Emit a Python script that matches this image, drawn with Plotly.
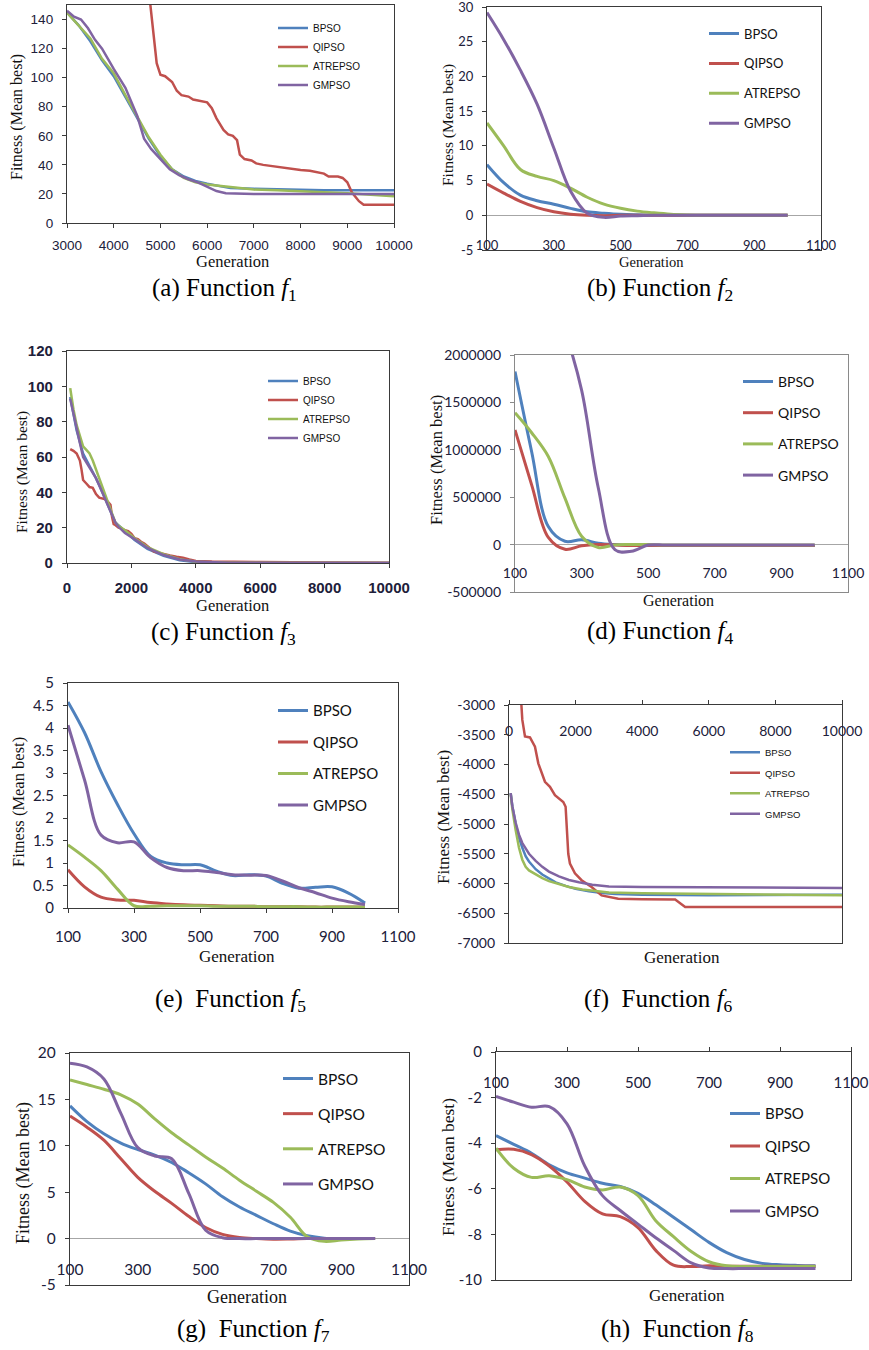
import plotly.graph_objects as go

W, H = 869, 1350

SERIES = ["BPSO", "QIPSO", "ATREPSO", "GMPSO"]
COLORS = ["#4F81BD", "#C0504D", "#9BBB59", "#8064A2"]

# ---------------- (a) Function f1 ----------------
A_BPSO_X = [3000, 3250, 3500, 3750, 4000, 4250, 4500, 4750, 5000, 5250, 5500, 5750, 6000, 6500, 7000, 7500, 8000, 8500, 9000, 9500, 10000]
A_BPSO_Y = [145, 136, 125, 112, 101, 87, 72, 58, 46, 37, 32, 29, 27, 24, 23.5, 23, 22.5, 22.5, 22.5, 22.5, 22.5]
A_QIPSO_X = [4700, 4781, 4850, 4920, 5000, 5100, 5250, 5350, 5450, 5600, 5700, 5900, 6000, 6100, 6200, 6350, 6450, 6550, 6640, 6700, 6800, 6950, 7050, 7200, 7400, 7600, 7800, 8000, 8200, 8400, 8500, 8600, 8800, 8900, 9000, 9100, 9250, 9350, 10000]
A_QIPSO_Y = [175, 150, 128, 110, 102, 101, 97, 91, 88, 87, 85, 84, 83, 79, 72, 64, 61, 60, 57, 47, 44, 43, 41, 40, 39, 38, 37, 36.5, 36, 35, 34, 32, 32, 31, 28, 21, 15, 12.5, 12.5]
A_ATREPSO_X = [3000, 3250, 3500, 3750, 4000, 4250, 4500, 4750, 5000, 5250, 5500, 5750, 6000, 6250, 6500, 6750, 7000, 7500, 8000, 8500, 9000, 9500, 10000]
A_ATREPSO_Y = [144.7, 136, 127, 113, 103, 88, 73, 59, 47, 37, 31, 28, 26.5, 25.5, 24.5, 23.5, 23, 22.5, 22, 21, 20.5, 19.5, 18.4]
A_GMPSO_X = [3000, 3150, 3300, 3450, 3600, 3750, 4000, 4250, 4500, 4650, 4800, 5000, 5200, 5400, 5600, 5800, 6000, 6200, 6400, 7000, 8000, 9000, 10000]
A_GMPSO_Y = [146, 142, 140, 134, 126, 120, 106, 93, 74, 58, 51, 44, 37, 33, 30, 28, 25, 22, 20.5, 20, 20, 20, 20]

# ---------------- shared generation grid (b, d, e, g, h) ----------------
GEN = [100, 150, 200, 250, 300, 350, 400, 450, 500, 550, 600, 650, 700, 750, 800, 850, 900, 950, 1000]

# (b) Function f2
B_BPSO = [7.3, 4.7, 2.9, 2.1, 1.6, 1.0, 0.5, 0.3, 0.15, 0.08, 0.04, 0.02, 0, 0, 0, 0, 0, 0, 0]
B_QIPSO = [4.5, 3.2, 2.0, 1.1, 0.5, 0.15, 0, -0.05, 0, 0, 0, 0, 0, 0, 0, 0, 0, 0, 0]
B_ATREPSO = [13.3, 10.0, 6.6, 5.6, 5.0, 3.9, 2.6, 1.6, 1.0, 0.6, 0.35, 0.15, 0.05, 0, 0, 0, 0, 0, 0]
B_GMPSO = [29.2, 25.3, 20.9, 16.0, 9.7, 3.5, 0.3, -0.3, -0.1, -0.05, 0, 0, 0, 0, 0, 0, 0, 0, 0]

# (c) Function f3
C_BPSO_X = [100, 200, 300, 500, 700, 900, 1100, 1300, 1500, 1800, 2100, 2500, 3000, 3500, 4000, 5000, 10000]
C_BPSO_Y = [94, 84, 75, 62, 55, 48, 40, 31, 23, 18, 13, 8, 4, 1.5, 0.5, 0.1, 0]
C_QIPSO_X = [100, 200, 300, 400, 450, 500, 600, 700, 800, 900, 1000, 1100, 1200, 1300, 1350, 1400, 1450, 1500, 1600, 1700, 1800, 1900, 2000, 2100, 2200, 2300, 2400, 2500, 2600, 2700, 2800, 3000, 3200, 3400, 3600, 3800, 4000, 4500, 5000, 6000, 8000, 10000]
C_QIPSO_Y = [64.5, 63.5, 62, 58, 53, 47, 45, 43, 42.5, 39, 37, 36.5, 36, 34, 33, 26, 22, 21.5, 20, 19.5, 18.5, 18, 16.5, 14, 13.5, 12, 11, 9.5, 8, 6.5, 6, 5, 4.2, 3.5, 3, 2, 1.2, 0.8, 0.6, 0.5, 0.3, 0.2]
C_ATREPSO_X = [100, 200, 300, 400, 500, 600, 700, 800, 900, 1000, 1100, 1200, 1300, 1400, 1500, 1600, 1800, 2100, 2500, 3000, 3500, 4000, 5000, 10000]
C_ATREPSO_Y = [99, 87, 78, 72, 66, 64, 62, 58, 53, 48, 43, 38, 33, 28, 23, 21, 18.5, 14, 9, 5, 2.2, 0.7, 0.1, 0]
C_GMPSO_X = [100, 200, 300, 400, 500, 600, 700, 800, 900, 1000, 1100, 1200, 1300, 1400, 1500, 1600, 1800, 2100, 2500, 3000, 3500, 4000, 5000, 10000]
C_GMPSO_Y = [93, 84, 75, 68, 60, 57, 54, 51, 48, 44, 40, 35, 31, 27, 23, 20.5, 17, 13.5, 8.5, 4.5, 2, 0.8, 0.2, 0]

# (d) Function f4
D_BPSO = [1825000, 980000, 190000, 35000, 50000, 15000, 0, -8000, -10000, -10000, -10000, -10000, -10000, -10000, -10000, -10000, -10000, -10000, -10000]
D_QIPSO = [1210000, 630000, 75000, -50000, -12000, 0, -5000, -10000, -10000, -10000, -10000, -10000, -10000, -10000, -10000, -10000, -10000, -10000, -10000]
D_ATREPSO = [1390000, 1180000, 930000, 490000, 88000, -30000, -3000, 0, 0, -5000, -5000, -5000, -5000, -5000, -5000, -5000, -5000, -5000, -5000]
D_GMPSO = [3200000, 3000000, 2700000, 2250000, 1630000, 600000, -53000, -70000, -5000, -5000, -5000, -5000, -5000, -5000, -5000, -5000, -5000, -5000, -5000]

# (e) Function f5
E_BPSO = [4.58, 3.9, 3.03, 2.3, 1.65, 1.15, 1.0, 0.96, 0.96, 0.82, 0.72, 0.74, 0.71, 0.55, 0.44, 0.46, 0.47, 0.33, 0.11]
E_QIPSO = [0.85, 0.47, 0.24, 0.18, 0.17, 0.12, 0.09, 0.07, 0.06, 0.05, 0.04, 0.04, 0.03, 0.03, 0.03, 0.02, 0.02, 0.02, 0.02]
E_ATREPSO = [1.4, 1.13, 0.83, 0.42, 0.05, 0.04, 0.05, 0.05, 0.05, 0.04, 0.04, 0.04, 0.03, 0.03, 0.03, 0.02, 0.02, 0.02, 0.02]
E_GMPSO = [4.06, 2.85, 1.62, 1.45, 1.47, 1.12, 0.9, 0.83, 0.83, 0.79, 0.74, 0.73, 0.72, 0.6, 0.45, 0.34, 0.22, 0.14, 0.08]

# (f) Function f6
F_BPSO_X = [50, 100, 200, 300, 400, 500, 600, 800, 1000, 1200, 1400, 1700, 2000, 2400, 2800, 3200, 4000, 6000, 8000, 10000]
F_BPSO_Y = [-4480, -4700, -5000, -5230, -5400, -5540, -5630, -5760, -5850, -5920, -5980, -6040, -6090, -6130, -6160, -6175, -6190, -6198, -6198, -6190]
F_QIPSO_X = [350, 400, 480, 630, 780, 880, 1080, 1230, 1380, 1630, 1700, 1780, 1830, 1980, 2180, 2480, 2780, 3280, 4000, 4990, 5290, 10000]
F_QIPSO_Y = [-2800, -3250, -3530, -3545, -3700, -3980, -4290, -4375, -4515, -4630, -4710, -5500, -5665, -5830, -5945, -6060, -6200, -6255, -6265, -6270, -6394, -6394]
F_ATREPSO_X = [50, 100, 200, 300, 400, 500, 600, 800, 1000, 1200, 1500, 1800, 2200, 2600, 3000, 4000, 6000, 8000, 10000]
F_ATREPSO_Y = [-4490, -4750, -5100, -5400, -5600, -5720, -5780, -5850, -5910, -5960, -6010, -6060, -6100, -6130, -6150, -6165, -6175, -6190, -6198]
F_GMPSO_X = [50, 100, 200, 300, 400, 600, 800, 1000, 1200, 1500, 1800, 2100, 2500, 3000, 4000, 6000, 8000, 10000]
F_GMPSO_Y = [-4480, -4700, -4980, -5180, -5320, -5500, -5620, -5720, -5800, -5880, -5940, -5980, -6020, -6050, -6060, -6065, -6070, -6075]

# (g) Function f7
G_BPSO = [14.3, 12.6, 11.3, 10.3, 9.6, 9.0, 8.2, 7.1, 5.9, 4.5, 3.4, 2.5, 1.6, 0.8, 0.3, 0.05, 0, 0, 0]
G_QIPSO = [13.2, 12.0, 10.6, 8.6, 6.6, 5.1, 3.8, 2.4, 1.2, 0.45, 0.12, 0.0, -0.07, -0.05, 0, 0, 0, 0, 0]
G_ATREPSO = [17.1, 16.6, 16.1, 15.5, 14.5, 12.9, 11.4, 10.1, 8.8, 7.6, 6.3, 5.1, 3.9, 2.3, 0.2, -0.3, -0.15, -0.05, 0]
G_GMPSO = [18.9, 18.5, 17.2, 13.5, 9.8, 8.9, 8.6, 4.9, 0.9, 0.1, 0, 0, 0, 0, 0, 0, 0, 0, 0]

# (h) Function f8
H_BPSO = [-3.67, -4.05, -4.44, -4.95, -5.3, -5.53, -5.76, -5.9, -6.2, -6.7, -7.25, -7.8, -8.35, -8.8, -9.1, -9.27, -9.33, -9.36, -9.38]
H_QIPSO = [-4.29, -4.27, -4.5, -5.0, -5.7, -6.55, -7.1, -7.22, -7.7, -8.7, -9.35, -9.41, -9.38, -9.4, -9.4, -9.4, -9.4, -9.4, -9.4]
H_ATREPSO = [-4.22, -5.1, -5.5, -5.43, -5.6, -5.92, -6.05, -5.92, -6.3, -7.4, -8.1, -8.75, -9.2, -9.38, -9.41, -9.41, -9.41, -9.41, -9.41]
H_GMPSO = [-1.95, -2.2, -2.42, -2.4, -3.15, -5.0, -6.3, -6.95, -7.55, -8.15, -8.7, -9.25, -9.47, -9.5, -9.5, -9.5, -9.5, -9.5, -9.5]

# ---------------- tick labels ----------------
XT_A = ["3000", "4000", "5000", "6000", "7000", "8000", "9000", "10000"]
XT_GEN = ["100", "300", "500", "700", "900", "1100"]
XT_10K = ["0", "2000", "4000", "6000", "8000", "10000"]
YT_A = ["0", "20", "40", "60", "80", "100", "120", "140"]
YT_B = ["-5", "0", "5", "10", "15", "20", "25", "30"]
YT_C = ["0", "20", "40", "60", "80", "100", "120"]
YT_D = ["-500000", "0", "500000", "1000000", "1500000", "2000000"]
YT_E = ["0", "0.5", "1", "1.5", "2", "2.5", "3", "3.5", "4", "4.5", "5"]
YT_F = ["-7000", "-6500", "-6000", "-5500", "-5000", "-4500", "-4000", "-3500", "-3000"]
YT_G = ["-5", "0", "5", "10", "15", "20"]
YT_H = ["-10", "-8", "-6", "-4", "-2", "0"]

CAPTIONS = ["(a) Function <i>f</i><sub>1</sub>", "(b) Function <i>f</i><sub>2</sub>",
            "(c) Function <i>f</i><sub>3</sub>", "(d) Function <i>f</i><sub>4</sub>",
            "(e) \u00a0Function <i>f</i><sub>5</sub>", "(f) \u00a0Function <i>f</i><sub>6</sub>",
            "(g) \u00a0Function <i>f</i><sub>7</sub>", "(h) \u00a0Function <i>f</i><sub>8</sub>"]
YTITLE = "Fitness (Mean best)"
XTITLE = "Generation"


def tv(labels):
    return [float(s) for s in labels]


ARIAL = "Liberation Sans, Arial, sans-serif"
CALI = "Lato, Carlito, Calibri, sans-serif"
SERIF = "Liberation Serif, Times New Roman, serif"
TICKC = "#20203a"
DARK = "#3a3a3a"
GRAY = "#8a8a8a"

# layout/style configuration per panel (pixel boxes: left, right, top, bottom)
PANELS = [
    dict(box=(67, 394, 5, 223), xr=[3000, 10000], yr=[0, 150], xt=XT_A, yt=YT_A,
         series=[(A_BPSO_X, A_BPSO_Y), (A_QIPSO_X, A_QIPSO_Y), (A_ATREPSO_X, A_ATREPSO_Y), (A_GMPSO_X, A_GMPSO_Y)],
         spline=False, lw=2.5, tfont=(ARIAL, 13.5, "normal"), xlab=("outside", 6), xside="bottom",
         lc=DARK, zero=False, leg=(278, 25, ARIAL, 10, 0), ytit=(17, 117, 16), xtit=(233, 261, 16.5), cap=(224, 290)),
    dict(box=(487, 821, 7, 250), xr=[100, 1100], yr=[-5, 30], xt=XT_GEN, yt=YT_B,
         series=[(GEN, B_BPSO), (GEN, B_QIPSO), (GEN, B_ATREPSO), (GEN, B_GMPSO)],
         spline=True, lw=3, tfont=(CALI, 13, "normal"), xlab=("inside", -3), xside="bottom",
         lc=DARK, zero=True, leg=(709, 32, CALI, 13, 10), ytit=(448, 125, 15.5), xtit=(651, 262, 14.5), cap=(660, 290)),
    dict(box=(67, 389, 351, 563), xr=[0, 10000], yr=[0, 120], xt=XT_10K, yt=YT_C,
         series=[(C_BPSO_X, C_BPSO_Y), (C_QIPSO_X, C_QIPSO_Y), (C_ATREPSO_X, C_ATREPSO_Y), (C_GMPSO_X, C_GMPSO_Y)],
         spline=False, lw=2.5, tfont=(ARIAL, 15, "bold"), xlab=("outside", 7), xside="bottom",
         lc=DARK, zero=False, leg=(268, 378, ARIAL, 10, 0), ytit=(22, 472, 15.5), xtit=(233, 605, 16.5), cap=(223, 633)),
    dict(box=(515, 848, 355, 592), xr=[100, 1100], yr=[-500000, 2000000], xt=XT_GEN, yt=YT_D,
         series=[(GEN, D_BPSO), (GEN, D_QIPSO), (GEN, D_ATREPSO), (GEN, D_GMPSO)],
         spline=True, lw=3, tfont=(CALI, 14, "normal"), xlab=("inside", 11), xside="bottom",
         lc=GRAY, zero=True, leg=(743, 380, CALI, 14, 10), ytit=(436, 460, 16.5), xtit=(678, 600, 16), cap=(660, 632)),
    dict(box=(68, 398, 683, 908), xr=[100, 1100], yr=[0, 5], xt=XT_GEN, yt=YT_E,
         series=[(GEN, E_BPSO), (GEN, E_QIPSO), (GEN, E_ATREPSO), (GEN, E_GMPSO)],
         spline=True, lw=3, tfont=(CALI, 15, "normal"), xlab=("outside", 11), xside="bottom",
         lc=DARK, zero=False, leg=(278, 709, CALI, 15, 9), ytit=(18, 802, 16.5), xtit=(237, 956, 17), cap=(230, 1000)),
    dict(box=(509, 842, 705, 943), xr=[0, 10000], yr=[-7000, -3000], xt=XT_10K, yt=YT_F,
         series=[(F_BPSO_X, F_BPSO_Y), (F_QIPSO_X, F_QIPSO_Y), (F_ATREPSO_X, F_ATREPSO_Y), (F_GMPSO_X, F_GMPSO_Y)],
         spline=False, lw=2.5, tfont=(CALI, 14, "normal"), xlab=("inside", 21), xside="top",
         lc=DARK, zero=False, leg=(730, 749, ARIAL, 9.5, 1.5), ytit=(443, 817, 17), xtit=(682, 957, 17), cap=(658, 1000)),
    dict(box=(70, 409, 1053, 1285), xr=[100, 1100], yr=[-5, 20], xt=XT_GEN, yt=YT_G,
         series=[(GEN, G_BPSO), (GEN, G_QIPSO), (GEN, G_ATREPSO), (GEN, G_GMPSO)],
         spline=True, lw=3, tfont=(CALI, 15.5, "normal"), xlab=("inside", 7), xside="bottom",
         lc=DARK, zero=True, leg=(283, 1077, CALI, 15.5, 12), ytit=(23, 1173, 18), xtit=(247, 1297, 18), cap=(253, 1330)),
    dict(box=(496, 851, 1052, 1280), xr=[100, 1100], yr=[-10, 0], xt=XT_GEN, yt=YT_H,
         series=[(GEN, H_BPSO), (GEN, H_QIPSO), (GEN, H_ATREPSO), (GEN, H_GMPSO)],
         spline=True, lw=3, tfont=(CALI, 15, "normal"), xlab=("inside", 25), xside="top",
         lc=DARK, zero=False, leg=(730, 1112, CALI, 15, 10), ytit=(448, 1167, 17.5), xtit=(687, 1295, 17), cap=(677, 1330)),
]

fig = go.Figure()
annotations = []
layout = dict(width=W, height=H, margin=dict(l=0, r=0, t=0, b=0, pad=0, autoexpand=False),
              paper_bgcolor="white", plot_bgcolor="white", showlegend=True)

for i, p in enumerate(PANELS, start=1):
    sfx = "" if i == 1 else str(i)
    l, r, t, b = p["box"]
    xdom = [l / W, r / W]
    ydom = [1 - b / H, 1 - t / H]
    legname = "legend" + sfx
    for k, (xs, ys) in enumerate(p["series"]):
        line = dict(color=COLORS[k], width=p["lw"])
        if p["spline"]:
            line.update(shape="spline", smoothing=1.0)
        fig.add_trace(go.Scatter(
            x=xs, y=ys, mode="lines", name=SERIES[k], line=line,
            xaxis="x" + sfx, yaxis="y" + sfx, legend=legname,
            legendgroup=f"p{i}_{SERIES[k]}", hoverinfo="skip"))
    tfam, tsize, tweight = p["tfont"]
    labpos, standoff = p["xlab"]
    tickfont = dict(family=tfam, size=tsize, color=TICKC, weight=tweight)
    layout["xaxis" + sfx] = dict(
        domain=xdom, range=p["xr"], anchor="y" + sfx, side=p["xside"], automargin=False,
        tickmode="array", tickvals=tv(p["xt"]), ticktext=p["xt"],
        showgrid=False, zeroline=False, showline=True, linecolor=p["lc"], linewidth=1.3,
        mirror=True,
        ticks="outside" if p["xside"] == "top" or labpos == "outside" else "",
        ticklen=4, tickcolor=p["lc"],
        ticklabelposition=labpos, ticklabelstandoff=standoff, ticklabeloverflow="allow",
        tickfont=tickfont, fixedrange=True)
    layout["yaxis" + sfx] = dict(
        domain=ydom, range=p["yr"], anchor="x" + sfx, automargin=False,
        tickmode="array", tickvals=tv(p["yt"]), ticktext=p["yt"],
        showgrid=False, showline=True, linecolor=p["lc"], linewidth=1.3, mirror=True,
        zeroline=p["zero"], zerolinecolor="#a6a6a6", zerolinewidth=1.3,
        ticks="outside", ticklen=4, tickcolor=p["lc"], ticklabelstandoff=6,
        ticklabeloverflow="allow",
        tickfont=tickfont, fixedrange=True)
    lx, ly, lfam, lsize, lgap = p["leg"]
    layout[legname] = dict(
        x=(lx - 5) / W, y=1 - (ly - (0.65 * lsize + 5)) / H, xanchor="left", yanchor="top",
        bgcolor="rgba(0,0,0,0)", borderwidth=0, tracegroupgap=lgap,
        font=dict(family=lfam, size=lsize, color="#111111"), itemclick=False, itemdoubleclick=False)
    yx, yy, ys_ = p["ytit"]
    annotations.append(dict(text=YTITLE, x=yx / W, y=1 - yy / H, xref="paper", yref="paper",
                            showarrow=False, textangle=-90, xanchor="center", yanchor="middle",
                            font=dict(family=SERIF, size=ys_, color="#111111")))
    gx, gy, gs = p["xtit"]
    annotations.append(dict(text=XTITLE, x=gx / W, y=1 - gy / H, xref="paper", yref="paper",
                            showarrow=False, xanchor="center", yanchor="middle",
                            font=dict(family=SERIF, size=gs, color="#111111")))
    cx, cy = p["cap"]
    annotations.append(dict(text=CAPTIONS[i - 1], x=cx / W, y=1 - cy / H, xref="paper", yref="paper",
                            showarrow=False, xanchor="center", yanchor="middle",
                            font=dict(family=SERIF, size=25, color="#000000")))

layout["annotations"] = annotations
fig.update_layout(**layout)
fig.write_html("out.html",
               config={"displayModeBar": False, "staticPlot": False},
               post_script="document.body.style.margin='0';document.body.style.overflow='hidden';")
